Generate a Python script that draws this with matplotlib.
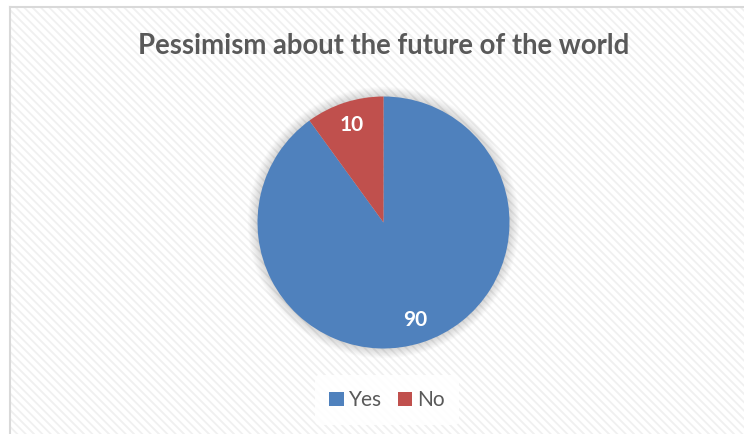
import matplotlib
matplotlib.use("Agg")
import matplotlib.pyplot as plt
from matplotlib.patches import Rectangle, Circle, Patch
from matplotlib.lines import Line2D

# Survey answers
categories = ["Yes", "No"]
values = [90, 10]
colors = ["#4F81BD", "#C0504D"]
title = "Pessimism about the future of the world"

W, H = 744, 434
plt.rcParams["hatch.linewidth"] = 1.3
fig = plt.figure(figsize=(W / 100, H / 100), dpi=100)
fig.patch.set_facecolor("white")

# Chart area: light diagonal texture with a thin grey frame
bg = Rectangle((10 / W, 0), 1, (H - 7) / H, transform=fig.transFigure,
               facecolor="white", edgecolor="#f0f0f0", hatch="\\\\\\\\",
               linewidth=0, zorder=-10)
fig.add_artist(bg)
fig.add_artist(Line2D([10 / W, 10 / W], [0, (H - 7) / H], color="#d9d9d9",
                      lw=1.5, transform=fig.transFigure, zorder=-5))
fig.add_artist(Line2D([10 / W, 1], [(H - 7) / H, (H - 7) / H], color="#d9d9d9",
                      lw=1.5, transform=fig.transFigure, zorder=-5))

fig.text(384 / W, 1 - 46 / H, title, ha="center", va="center",
         fontsize=19.8, fontweight="bold", color="#595959", family="Lato")

cx, cy, r = 383.5, 222.5, 126
ax = fig.add_axes([(cx - r) / W, (H - cy - r) / H, 2 * r / W, 2 * r / H])
ax.set_zorder(1)
ax.set_aspect("equal")
ax.axis("off")

# soft shadow around the pie
for k in range(14):
    ax.add_patch(Circle((0, 0), 1.0 + 0.006 * k, facecolor="#000000",
                        alpha=0.012, linewidth=0, zorder=0, clip_on=False))

total = sum(values)
wedges, _, autotexts = ax.pie(
    values, colors=colors, startangle=90, counterclock=False,
    radius=1.0, autopct=lambda p: f"{round(p * total / 100)}",
    pctdistance=0.81,
    wedgeprops=dict(linewidth=0),
    textprops=dict(color="white", fontsize=15, fontweight="bold", family="Lato"),
)
for w in wedges:
    w.set_zorder(2)
for t in autotexts:
    t.set_zorder(3)
ax.set_xlim(-1, 1)
ax.set_ylim(-1, 1)

handles = [Patch(facecolor=c, edgecolor="none") for c in colors]
leg = fig.legend(handles, categories, loc="center", bbox_to_anchor=(387 / W, 1 - 400 / H),
                 ncol=2, frameon=True, handlelength=0.68, handleheight=0.68,
                 handletextpad=0.25, columnspacing=0.75, borderpad=0.7,
                 prop=dict(family="Lato", size=15))
leg.get_frame().set_facecolor("white")
leg.get_frame().set_edgecolor("none")
leg.get_frame().set_alpha(0.9)
for t in leg.get_texts():
    t.set_color("#595959")

fig.savefig("out.png", dpi=100, facecolor="white")
